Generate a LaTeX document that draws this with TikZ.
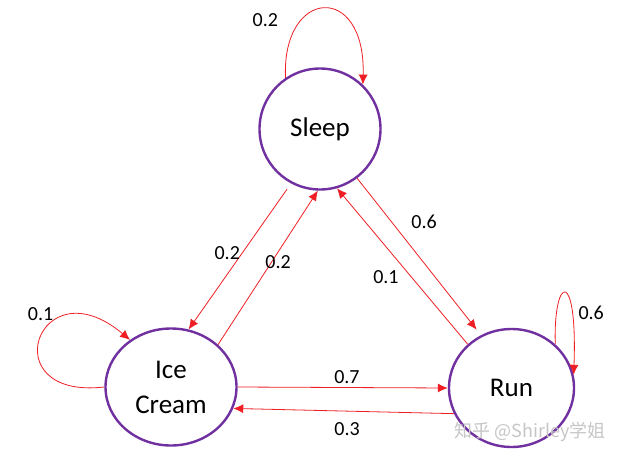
\documentclass[tikz,border=0pt]{standalone}
\usepackage{fontspec}
\setmainfont{Carlito}
\newfontfamily\cjkfont{Noto Sans CJK SC}
\usetikzlibrary{arrows.meta,automata,positioning,shapes.geometric}
\definecolor{statepurple}{RGB}{112,48,160}
\definecolor{edgered}{RGB}{238,30,36}

\begin{document}
\begin{tikzpicture}[->,>={Latex[length=10pt,width=9pt]},x=1pt,y=1pt,on grid,
    every state/.style={draw=statepurple,line width=2.4pt,fill=white,align=center,
      font=\fontsize{27}{35}\selectfont},
    link/.style={draw=edgered,line width=0.8pt},
    every edge/.style={link},
    lbl/.style={font=\fontsize{20}{24}\selectfont,text=black}]
  \useasboundingbox (0,0) rectangle (624,-460);
  \node [state,minimum size=121pt] (sleep) at (320,-129) {Sleep};
  \node [state,ellipse,minimum width=131pt,minimum height=117pt,
         below left=258pt and 149pt of sleep] (ice) {Ice\\Cream};
  \node [state,ellipse,minimum width=125pt,minimum height=118pt,
         right=340.5pt of ice,yshift=-1pt] (run) {Run};

  \path (sleep.242) edge[shorten <=7pt] node[lbl,pos=.525,xshift=-10pt,yshift=7pt] {0.2} (ice.73)
        (ice.42) edge node[lbl,pos=.556,xshift=4.5pt,yshift=-3pt] {0.2} (sleep.268)
        (run.135) edge node[lbl,pos=.511,xshift=-15pt,yshift=-12.5pt] {0.1} (sleep.286)
        (sleep.307) edge[shorten >=7pt] node[lbl,pos=.379,xshift=20pt,yshift=16pt] {0.6} (run.120)
        (ice.0) edge node[lbl,pos=.52,yshift=10.5pt] {0.7} (run.180)
        (run.204) edge node[lbl,pos=.484,yshift=-18pt] {0.3} (ice.341);

  % self loops
  \draw[link] (sleep.124) .. controls +(-4,90) and +(3,103) .. node[lbl,pos=.2,xshift=-27pt,yshift=14pt] {0.2} (sleep.46);
  \draw[link] (ice.180) .. controls +(-113,-13) and +(-92,77) .. node[lbl,pos=.7,xshift=-22pt,yshift=4pt] {0.1} (ice.131);
  \draw[link] (run.45) .. controls +(-2,69) and +(4,108) .. node[lbl,pos=.75,xshift=19pt,yshift=2pt] {0.6} (run.12);

  \node[text=gray!45,font=\cjkfont\fontsize{18}{20}\selectfont] (watermark) at (530,-431.5) {知乎 @Shirley学姐};
\end{tikzpicture}
\end{document}
